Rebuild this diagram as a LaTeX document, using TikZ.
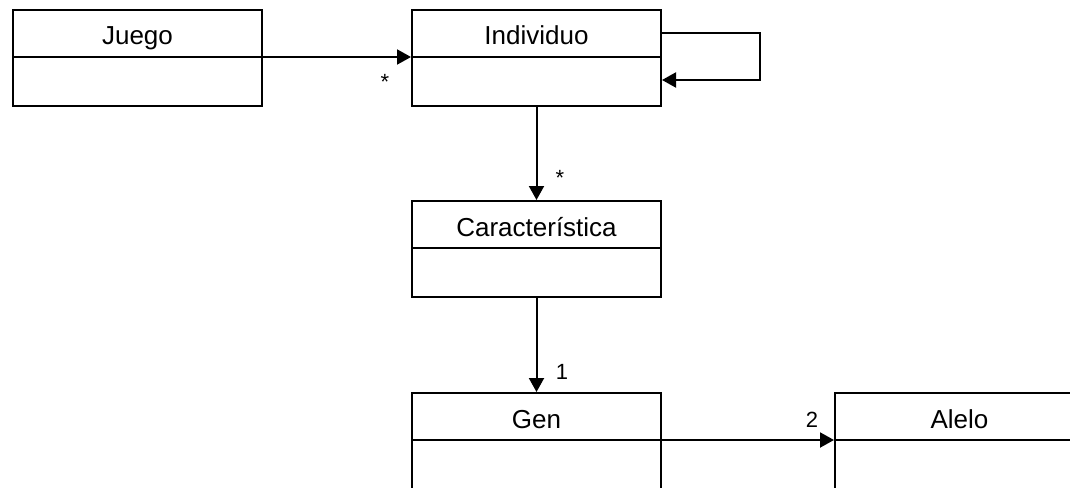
\documentclass[tikz,border=0pt]{standalone}
\usepackage{fontspec}
\setmainfont{Liberation Sans}
\usetikzlibrary{arrows.meta,calc}
\begin{document}
\begin{tikzpicture}[x=1pt,y=-1pt,
  classbox/.style={draw,line width=2pt,minimum width=249pt,minimum height=96pt,inner sep=0pt,anchor=north west},
  lowbox/.style={classbox,minimum height=110pt},
  cname/.style={font=\fontsize{26}{30}\selectfont,anchor=base,inner sep=0pt},
  mult/.style={font=\fontsize{22}{26}\selectfont,anchor=base,inner sep=0pt},
  assoc/.style={line width=2pt,-{Triangle[length=14pt,width=15pt]}}]
\useasboundingbox (0,0) rectangle (1070,487);
\clip (0,0) rectangle (1070,487);
\node[classbox] (juego) at (12,9) {};
\node[classbox] (indiv) at (411,9) {};
\node[classbox] (carac) at (411,200) {};
\node[lowbox] (gen) at (411,392) {};
\node[lowbox] (alelo) at (834,392) {};
\foreach \b in {juego,indiv,carac,gen,alelo}
  \draw[line width=2pt] ([yshift=-48pt]\b.north west) -- ([yshift=-48pt]\b.north east);
\node[cname] (juegoname) at ([yshift=-36pt]juego.north) {Juego};
\node[cname] (indivname) at ([yshift=-36pt]indiv.north) {Individuo};
\node[cname] (caracname) at ([yshift=-36pt]carac.north) {Característica};
\node[cname] (genname) at ([yshift=-36pt]gen.north) {Gen};
\node[cname] (alelname) at ([yshift=-36pt]alelo.north) {Alelo};
\draw[assoc] ([yshift=-48pt]juego.north east) -- ([yshift=-48pt]indiv.north west);
\draw[assoc] (indiv.south) -- (carac.north);
\draw[assoc] (carac.south) -- (gen.north);
\draw[assoc] ([yshift=-48pt]gen.north east) -- ([yshift=-48pt]alelo.north west);
\coordinate (loopc) at (760,33);
\draw[assoc] ([yshift=-24pt]indiv.north east) -- (loopc) |- ([yshift=-71pt]indiv.north east);
\node[mult] (m1) at (385,89) {*};
\node[mult] (m2) at (560,185) {*};
\node[mult] (m3) at (562,379) {1};
\node[mult] (m4) at (812,427) {2};
\end{tikzpicture}
\end{document}
